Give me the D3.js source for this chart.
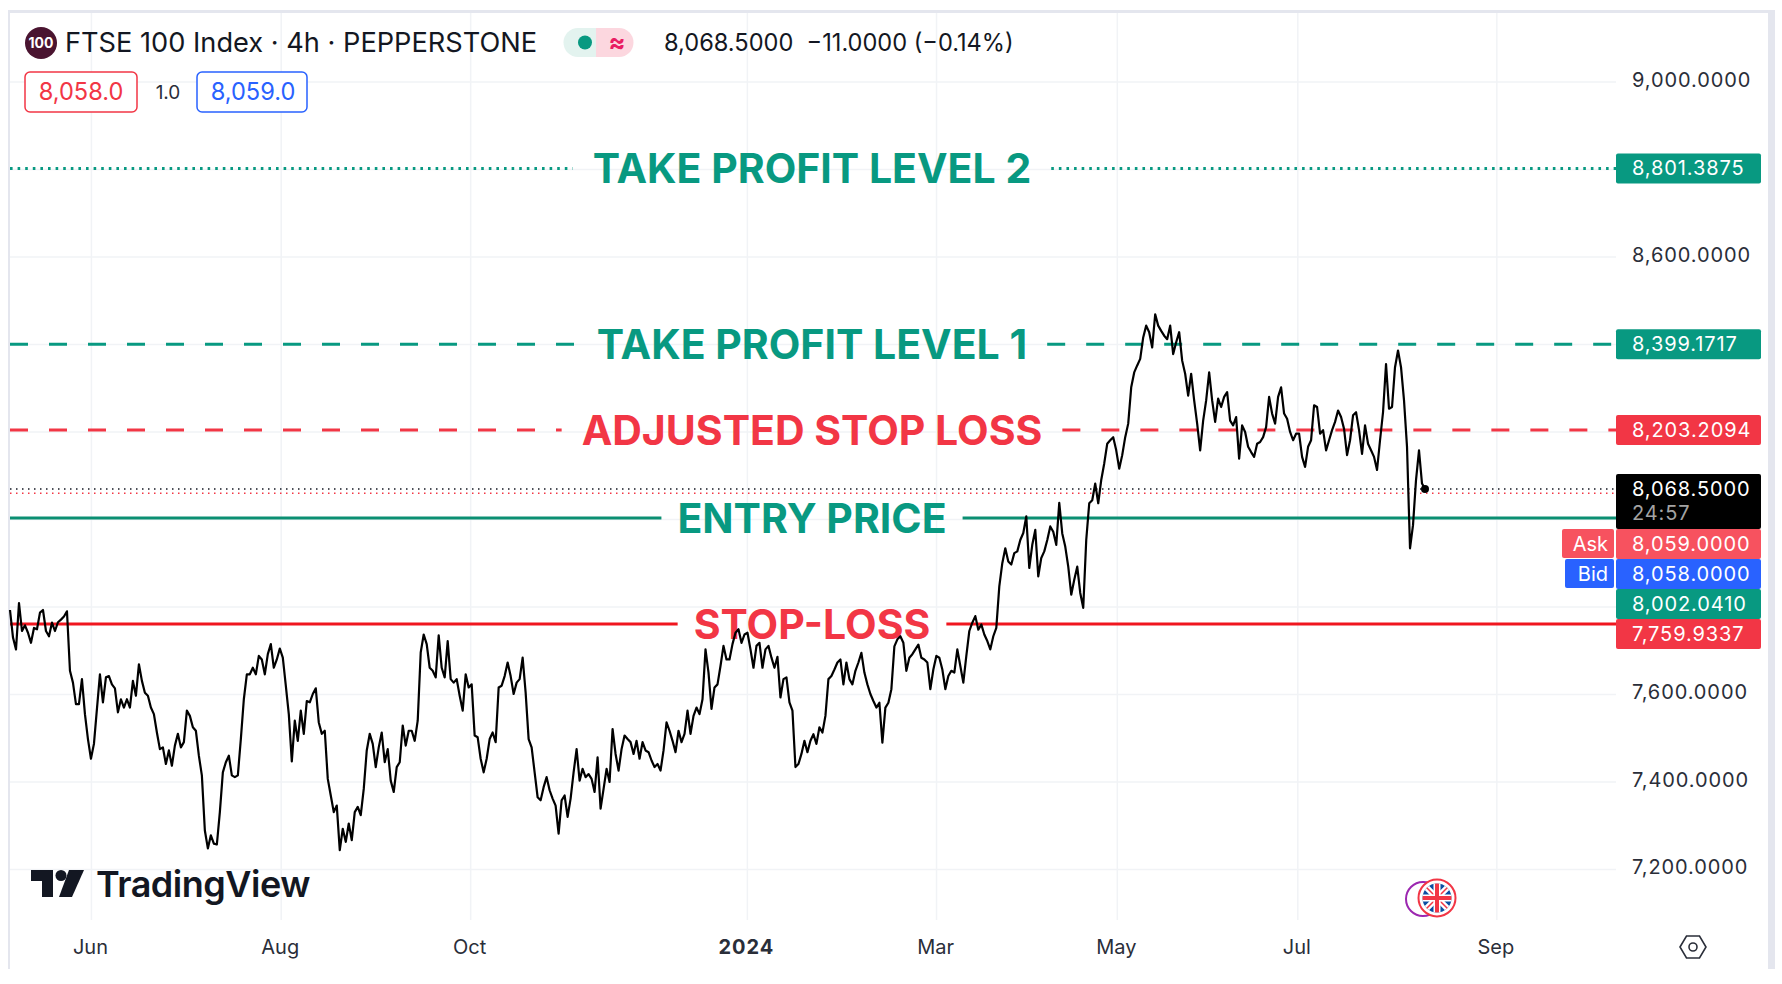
<!DOCTYPE html>
<html>
<head>
<meta charset="utf-8">
<script src="https://cdn.jsdelivr.net/npm/d3@7"></script>
<style>
  html, body { margin: 0; padding: 0; background: #fff; }
  svg { display: block; }
  text { font-family: Inter, "Noto Sans", sans-serif; }
</style>
</head>
<body>
<script>
// Closing prices, one reading every three pixels along the chart
var closes = [
  7792,7729,7702,7808,7744,7757,7740,7717,7751,7748,7786,7792,7744,7732,7763,7744,7764,7770,7777,7789,7653,7626,7577,7577,7634,7554,7497,7452,7486,7566,7645,7581,7638,7641,7622,7613,7558,7588,7569,7588,7569,7630,7596,7668,7630,7603,7596,7569,7554,7512,7474,7478,7440,7471,7436,7482,7509,7478,7490,7562,7550,7524,7516,7459,7414,7288,7247,7277,7258,7256,7330,7421,7444,7459,7414,7410,7414,7497,7588,7645,7645,7660,7645,7687,7679,7645,7691,
  7714,7660,7679,7704,7683,7619,7554,7446,7539,7493,7562,7509,7584,7581,7600,7613,7535,7509,7516,7406,7368,7330,7345,7243,7292,7262,7304,7266,7330,7342,7323,7383,7471,7509,7486,7433,7478,7512,7444,7474,7402,7376,7433,7444,7528,7482,7516,7516,7493,7539,7695,7736,7714,7660,7653,7638,7734,7660,7638,7721,7634,7626,7634,7596,7562,7645,7615,7622,7505,7501,7452,7421,7452,7497,7512,7490,7615,7619,7641,7672,7641,7600,7626,7634,7683,7603,7497,
  7478,7421,7364,7357,7387,7410,7380,7361,7345,7281,7357,7368,7319,7361,7421,7474,7402,7429,7410,7417,7406,7376,7455,7338,7383,7429,7399,7520,7463,7425,7474,7505,7497,7490,7463,7493,7452,7490,7471,7467,7448,7433,7440,7425,7471,7535,7516,7493,7467,7516,7490,7509,7562,7509,7550,7569,7554,7588,7702,7649,7566,7615,7622,7664,7710,7679,7679,7714,7740,7748,7717,7736,7740,7702,7660,7710,7717,7660,7702,7710,7683,7660,7685,7592,7634,7638,7581,
  7562,7433,7440,7463,7493,7467,7493,7508,7486,7524,7512,7550,7634,7641,7656,7672,7679,7622,7672,7634,7622,7653,7672,7694,7649,7622,7600,7584,7569,7580,7489,7569,7580,7611,7709,7725,7732,7717,7653,7683,7691,7702,7713,7683,7679,7672,7611,7656,7687,7683,7656,7611,7641,7653,7649,7702,7664,7626,7687,7744,7763,7778,7747,7759,7736,7721,7702,7732,7751,7846,7899,7933,7903,7896,7922,7926,7952,7968,8006,7888,7941,7975,7869,7911,7926,7952,
  7983,7971,7941,8037,7967,7937,7891,7827,7861,7891,7831,7797,7952,8036,8043,8081,8036,8089,8127,8172,8180,8187,8157,8115,8146,8187,8218,8301,8335,8351,8366,8415,8442,8427,8392,8468,8442,8430,8419,8411,8442,8377,8404,8427,8362,8332,8282,8332,8271,8218,8157,8225,8271,8335,8271,8222,8275,8256,8279,8290,8225,8214,8233,8138,8214,8199,8165,8153,8142,8172,8176,8187,8210,8279,8241,8218,8279,8301,8241,8229,8199,8180,8195,8195,8142,8119,8165,8180,8260,8256,8195,8203,8157,8180,8203,8222,8248,8233,8206,8146,8180,8237,8244,8203,8149,8214,8172,8157,8142,8112,8180,8244,8354,8252,8256,8347,8385,8347,8271,8165,7933,7986,8089,8157,8081,8068.5
];

var monthLabels = ["Jun", "Aug", "Oct", "2024", "Mar", "May", "Jul", "Sep"];
var monthBars = [27, 90.3, 153.5, 245.8, 308.9, 369.2, 429.4, 495.8];
var priceTicks = [9000, 8800, 8600, 8400, 8200, 8000, 7800, 7600, 7400, 7200];
var labelTicks = [9000, 8600, 7600, 7400, 7200];

var levelNames = ["TAKE PROFIT LEVEL 2", "TAKE PROFIT LEVEL 1", "ADJUSTED STOP LOSS", "ENTRY PRICE", "STOP-LOSS"];
var levelPrices = [8801.3875, 8399.1717, 8203.2094, 8002.041, 7759.9337];
var levelDash = ["2.6 5", "18 21", "18 21", null, null];
var levelColors = ["#089981", "#089981", "#f23645", "#089981", "#f23645"];
var levelLineColors = ["#089981", "#089981", "#f23645", "#0b8f72", "#f0161f"];

var lastPrice = 8068.5, askPrice = 8059, bidPrice = 8058;
var countdown = "24:57";

var svgWidth = 1782, svgHeight = 984;
var chartLeft = 10, chartRight = 1616, chartTop = 13, chartBottom = 920;
var fmt = d3.format(",.4f");

var svg = d3.select("body").append("svg")
  .attr("width", svgWidth)
  .attr("height", svgHeight);

// scales
var x = d3.scaleLinear().domain([0, closes.length - 1]).range([chartLeft, 1425]);
var y = d3.scaleLinear().domain([9000, 7200]).range([81.5, 869]);

// frame
svg.append("rect").attr("x", 8).attr("y", 10).attr("width", 1767).attr("height", 3).attr("fill", "#e4e6ee");
svg.append("rect").attr("x", 8).attr("y", 10).attr("width", 2).attr("height", 959).attr("fill", "#e4e6ee");
svg.append("rect").attr("x", 1768).attr("y", 10).attr("width", 7).attr("height", 959).attr("fill", "#e4e6ee");

// grid
var gridX = svg.append("g")
  .attr("transform", `translate(0, ${chartBottom})`)
  .call(d3.axisTop(x).tickValues(monthBars).tickSize(chartBottom - chartTop).tickFormat(""));
var gridY = svg.append("g")
  .attr("transform", `translate(${chartRight}, 0)`)
  .call(d3.axisLeft(y).tickValues(priceTicks).tickSize(chartRight - chartLeft).tickFormat(""));
[gridX, gridY].forEach(function (g) {
  g.select(".domain").remove();
  g.selectAll("line").attr("stroke", "#f1f3f6").attr("stroke-width", 1.5);
});

// level captions first, the series runs over them
var captions = svg.append("g").selectAll("text")
  .data(levelNames)
  .enter()
  .append("text")
  .attr("x", 812)
  .attr("y", (d, i) => y(levelPrices[i]) + 15)
  .attr("text-anchor", "middle")
  .attr("font-size", 41)
  .attr("font-weight", 700)
  .attr("fill", (d, i) => levelColors[i])
  .text(d => d);

// level lines with a gap around the caption
captions.each(function (d, i) {
  var box = this.getBBox();
  var pad = levelDash[i] ? 20 : 16;
  var parts = [[chartLeft, box.x - pad], [box.x + box.width + pad, chartRight]];
  parts.forEach(function (p) {
    svg.append("line")
      .attr("x1", p[0]).attr("x2", p[1])
      .attr("y1", y(levelPrices[i])).attr("y2", y(levelPrices[i]))
      .attr("stroke", levelLineColors[i])
      .attr("stroke-width", 3)
      .attr("stroke-dasharray", levelDash[i]);
  });
});

// last and ask dotted lines
[[lastPrice, "#131722"], [askPrice, "#f23645"]].forEach(function (l) {
  svg.append("line")
    .attr("x1", chartLeft).attr("x2", chartRight)
    .attr("y1", y(l[0])).attr("y2", y(l[0]))
    .attr("stroke", l[1])
    .attr("stroke-width", 1.5)
    .attr("stroke-dasharray", "1.5 4.5");
});

// price line
var line = d3.line().x((d, i) => x(i)).y(d => y(d));
svg.append("path")
  .datum(closes)
  .attr("d", line)
  .attr("fill", "none")
  .attr("stroke", "#000")
  .attr("stroke-width", 2.2)
  .attr("stroke-linejoin", "round");
svg.append("circle")
  .attr("cx", x(closes.length - 1))
  .attr("cy", y(lastPrice))
  .attr("r", 4)
  .attr("fill", "#000");

// price axis
var priceAxis = svg.append("g")
  .attr("transform", `translate(${chartRight}, 0)`)
  .call(d3.axisRight(y).tickValues(labelTicks).tickSize(0).tickPadding(16).tickFormat(fmt));
priceAxis.select(".domain").remove();
priceAxis.selectAll("text")
  .attr("y", -1.5)
  .attr("font-size", 20)
  .attr("letter-spacing", 0.9)
  .attr("fill", "#2a2e39")
  .style("font-family", "Inter");

// time axis
var timeAxis = svg.append("g")
  .attr("transform", "translate(-1, 940)")
  .call(d3.axisBottom(x).tickValues(monthBars).tickSize(0).tickPadding(0).tickFormat((d, i) => monthLabels[i]));
timeAxis.select(".domain").remove();
timeAxis.selectAll("text")
  .attr("font-size", 20)
  .attr("fill", "#2a2e39")
  .attr("font-weight", d => d === monthBars[3] ? 700 : 400)
  .attr("letter-spacing", d => d === monthBars[3] ? 1 : 0)
  .style("font-family", "Inter");

// price tags
function tag(yTop, h, color, txt) {
  svg.append("rect")
    .attr("x", chartRight).attr("y", yTop).attr("width", 145).attr("height", h)
    .attr("rx", 2).attr("fill", color);
  svg.append("text")
    .attr("x", chartRight + 16).attr("y", yTop + 22)
    .attr("font-size", 20).attr("letter-spacing", 0.9).attr("fill", "#fff")
    .text(txt);
}
tag(y(levelPrices[0]) - 15, 30, levelColors[0], fmt(levelPrices[0]));
tag(y(levelPrices[1]) - 15, 30, levelColors[1], fmt(levelPrices[1]));
tag(y(levelPrices[2]) - 15, 30, levelColors[2], fmt(levelPrices[2]));

var stackTop = y(lastPrice) - 15;
tag(stackTop, 55, "#000", fmt(lastPrice));
svg.append("text")
  .attr("x", chartRight + 16).attr("y", stackTop + 46)
  .attr("font-size", 20).attr("letter-spacing", 0.9).attr("fill", "#a3a3a3")
  .text(countdown);
tag(stackTop + 55, 30, "#f7525f", fmt(askPrice));
tag(stackTop + 85, 30, "#2962ff", fmt(bidPrice));
tag(stackTop + 115, 30, levelColors[3], fmt(levelPrices[3]));
tag(stackTop + 145, 30, levelColors[4], fmt(levelPrices[4]));

[["Ask", 1562, stackTop + 55, "#f7525f"], ["Bid", 1565, stackTop + 85, "#2962ff"]].forEach(function (t) {
  svg.append("rect")
    .attr("x", t[1]).attr("y", t[2]).attr("width", chartRight - 2 - t[1]).attr("height", 29)
    .attr("rx", 2).attr("fill", t[3]);
  svg.append("text")
    .attr("x", chartRight - 8).attr("y", t[2] + 22)
    .attr("text-anchor", "end")
    .attr("font-size", 20).attr("fill", "#fff")
    .text(t[0]);
});

// legend
svg.append("circle").attr("cx", 41).attr("cy", 43).attr("r", 16).attr("fill", "#4a1430");
svg.append("text").attr("x", 41).attr("y", 48).attr("text-anchor", "middle")
  .attr("font-size", 14).attr("font-weight", 700).attr("fill", "#fff").text("100");
svg.append("text").attr("x", 65).attr("y", 52)
  .attr("font-size", 27.2).attr("fill", "#131722")
  .text("FTSE 100 Index · 4h · PEPPERSTONE");

svg.append("path").attr("d", "M596,28H578a14.5,14.5 0 0 0 0,29H596Z").attr("fill", "#e3f3ef");
svg.append("path").attr("d", "M596,28H619a14.5,14.5 0 0 1 0,29H596Z").attr("fill", "#fcd7df");
svg.append("circle").attr("cx", 585).attr("cy", 42.5).attr("r", 7).attr("fill", "#089981");
svg.append("text").attr("x", 617).attr("y", 51).attr("text-anchor", "middle")
  .attr("font-size", 25).attr("font-weight", 700).attr("fill", "#e91e63").text("≈");

svg.append("text").attr("x", 664).attr("y", 51)
  .attr("font-size", 23.6).attr("fill", "#131722")
  .attr("xml:space", "preserve")
  .text("8,068.5000  −11.0000 (−0.14%)");

[[24, 113, "#f23645", "8,058.0"], [196, 111, "#2962ff", "8,059.0"]].forEach(function (b) {
  svg.append("rect")
    .attr("x", b[0] + 1).attr("y", 72).attr("width", b[1] - 1).attr("height", 40)
    .attr("rx", 5).attr("fill", "#fff").attr("stroke", b[2]).attr("stroke-width", 1.5);
  svg.append("text")
    .attr("x", b[0] + 57).attr("y", 100).attr("text-anchor", "middle")
    .attr("font-size", 23.6).attr("fill", b[2]).text(b[3]);
});
svg.append("text").attr("x", 168).attr("y", 99).attr("text-anchor", "middle")
  .attr("font-size", 19).attr("fill", "#2a2e39").text("1.0");

// TradingView watermark
var logo = svg.append("g").attr("fill", "#131722");
logo.append("path").attr("d", "M31,870H53V897H42V881H31Z");
logo.append("circle").attr("cx", 61).attr("cy", 875.5).attr("r", 5.5);
logo.append("path").attr("d", "M69,870H84L72,897H59Z");
logo.append("text").attr("x", 96).attr("y", 897)
  .attr("font-size", 36).attr("font-weight", 600).attr("letter-spacing", -0.5)
  .text("TradingView");

// events icon
svg.append("circle").attr("cx", 1423).attr("cy", 899).attr("r", 17)
  .attr("fill", "#fff").attr("stroke", "#9c27b0").attr("stroke-width", 2);
svg.append("circle").attr("cx", 1437).attr("cy", 898).attr("r", 18.5)
  .attr("fill", "#fff").attr("stroke", "#f23645").attr("stroke-width", 2);
svg.append("clipPath").attr("id", "flagClip").append("circle")
  .attr("cx", 1437).attr("cy", 898).attr("r", 14.5);
var flag = svg.append("g").attr("clip-path", "url(#flagClip)");
flag.append("rect").attr("x", 1420).attr("y", 881).attr("width", 34).attr("height", 34).attr("fill", "#0b4ea2");
flag.append("path").attr("d", "M1420,881L1454,915M1454,881L1420,915").attr("stroke", "#fff").attr("stroke-width", 6);
flag.append("path").attr("d", "M1420,881L1454,915M1454,881L1420,915").attr("stroke", "#f23645").attr("stroke-width", 1.5);
flag.append("path").attr("d", "M1437,881V915M1420,898H1454").attr("stroke", "#fff").attr("stroke-width", 7);
flag.append("path").attr("d", "M1437,881V915M1420,898H1454").attr("stroke", "#f23645").attr("stroke-width", 4);

// settings icon
svg.append("path").attr("d", "M1680,947L1686.5,936H1699.5L1706,947L1699.5,958H1686.5Z")
  .attr("fill", "none").attr("stroke", "#2a2e39").attr("stroke-width", 1.6);
svg.append("circle").attr("cx", 1693).attr("cy", 947).attr("r", 4)
  .attr("fill", "none").attr("stroke", "#2a2e39").attr("stroke-width", 1.6);
</script>
</body>
</html>
